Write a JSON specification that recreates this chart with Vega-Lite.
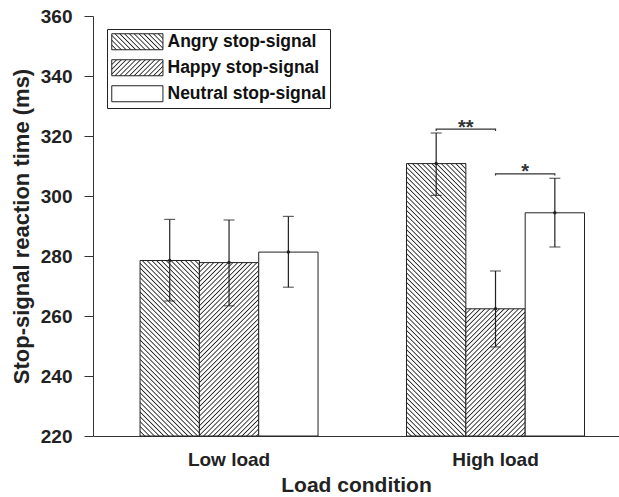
{
  "$schema": "https://vega.github.io/schema/vega-lite/v6.json",
  "width": 526,
  "height": 420,
  "autosize": {"type": "none"},
  "padding": {"left": 93, "top": 16, "right": 0, "bottom": 61},
  "background": "white",
  "config": {"view": {"stroke": null}, "font": "Liberation Sans"},
  "params": [
    {"name": "hs", "value": [
{"offset":0,"color":"#222"},{"offset":0.0025,"color":"#fff"},{"offset":0.0075,"color":"#fff"},
{"offset":0.01,"color":"#222"},{"offset":0.0125,"color":"#fff"},{"offset":0.0175,"color":"#fff"},
{"offset":0.02,"color":"#222"},{"offset":0.0225,"color":"#fff"},{"offset":0.0275,"color":"#fff"},
{"offset":0.03,"color":"#222"},{"offset":0.0325,"color":"#fff"},{"offset":0.0375,"color":"#fff"},
{"offset":0.04,"color":"#222"},{"offset":0.0425,"color":"#fff"},{"offset":0.0475,"color":"#fff"},
{"offset":0.05,"color":"#222"},{"offset":0.0525,"color":"#fff"},{"offset":0.0575,"color":"#fff"},
{"offset":0.06,"color":"#222"},{"offset":0.0625,"color":"#fff"},{"offset":0.0675,"color":"#fff"},
{"offset":0.07,"color":"#222"},{"offset":0.0725,"color":"#fff"},{"offset":0.0775,"color":"#fff"},
{"offset":0.08,"color":"#222"},{"offset":0.0825,"color":"#fff"},{"offset":0.0875,"color":"#fff"},
{"offset":0.09,"color":"#222"},{"offset":0.0925,"color":"#fff"},{"offset":0.0975,"color":"#fff"},
{"offset":0.10,"color":"#222"},{"offset":0.1025,"color":"#fff"},{"offset":0.1075,"color":"#fff"},
{"offset":0.11,"color":"#222"},{"offset":0.1125,"color":"#fff"},{"offset":0.1175,"color":"#fff"},
{"offset":0.12,"color":"#222"},{"offset":0.1225,"color":"#fff"},{"offset":0.1275,"color":"#fff"},
{"offset":0.13,"color":"#222"},{"offset":0.1325,"color":"#fff"},{"offset":0.1375,"color":"#fff"},
{"offset":0.14,"color":"#222"},{"offset":0.1425,"color":"#fff"},{"offset":0.1475,"color":"#fff"},
{"offset":0.15,"color":"#222"},{"offset":0.1525,"color":"#fff"},{"offset":0.1575,"color":"#fff"},
{"offset":0.16,"color":"#222"},{"offset":0.1625,"color":"#fff"},{"offset":0.1675,"color":"#fff"},
{"offset":0.17,"color":"#222"},{"offset":0.1725,"color":"#fff"},{"offset":0.1775,"color":"#fff"},
{"offset":0.18,"color":"#222"},{"offset":0.1825,"color":"#fff"},{"offset":0.1875,"color":"#fff"},
{"offset":0.19,"color":"#222"},{"offset":0.1925,"color":"#fff"},{"offset":0.1975,"color":"#fff"},
{"offset":0.20,"color":"#222"},{"offset":0.2025,"color":"#fff"},{"offset":0.2075,"color":"#fff"},
{"offset":0.21,"color":"#222"},{"offset":0.2125,"color":"#fff"},{"offset":0.2175,"color":"#fff"},
{"offset":0.22,"color":"#222"},{"offset":0.2225,"color":"#fff"},{"offset":0.2275,"color":"#fff"},
{"offset":0.23,"color":"#222"},{"offset":0.2325,"color":"#fff"},{"offset":0.2375,"color":"#fff"},
{"offset":0.24,"color":"#222"},{"offset":0.2425,"color":"#fff"},{"offset":0.2475,"color":"#fff"},
{"offset":0.25,"color":"#222"},{"offset":0.2525,"color":"#fff"},{"offset":0.2575,"color":"#fff"},
{"offset":0.26,"color":"#222"},{"offset":0.2625,"color":"#fff"},{"offset":0.2675,"color":"#fff"},
{"offset":0.27,"color":"#222"},{"offset":0.2725,"color":"#fff"},{"offset":0.2775,"color":"#fff"},
{"offset":0.28,"color":"#222"},{"offset":0.2825,"color":"#fff"},{"offset":0.2875,"color":"#fff"},
{"offset":0.29,"color":"#222"},{"offset":0.2925,"color":"#fff"},{"offset":0.2975,"color":"#fff"},
{"offset":0.30,"color":"#222"},{"offset":0.3025,"color":"#fff"},{"offset":0.3075,"color":"#fff"},
{"offset":0.31,"color":"#222"},{"offset":0.3125,"color":"#fff"},{"offset":0.3175,"color":"#fff"},
{"offset":0.32,"color":"#222"},{"offset":0.3225,"color":"#fff"},{"offset":0.3275,"color":"#fff"},
{"offset":0.33,"color":"#222"},{"offset":0.3325,"color":"#fff"},{"offset":0.3375,"color":"#fff"},
{"offset":0.34,"color":"#222"},{"offset":0.3425,"color":"#fff"},{"offset":0.3475,"color":"#fff"},
{"offset":0.35,"color":"#222"},{"offset":0.3525,"color":"#fff"},{"offset":0.3575,"color":"#fff"},
{"offset":0.36,"color":"#222"},{"offset":0.3625,"color":"#fff"},{"offset":0.3675,"color":"#fff"},
{"offset":0.37,"color":"#222"},{"offset":0.3725,"color":"#fff"},{"offset":0.3775,"color":"#fff"},
{"offset":0.38,"color":"#222"},{"offset":0.3825,"color":"#fff"},{"offset":0.3875,"color":"#fff"},
{"offset":0.39,"color":"#222"},{"offset":0.3925,"color":"#fff"},{"offset":0.3975,"color":"#fff"},
{"offset":0.40,"color":"#222"},{"offset":0.4025,"color":"#fff"},{"offset":0.4075,"color":"#fff"},
{"offset":0.41,"color":"#222"},{"offset":0.4125,"color":"#fff"},{"offset":0.4175,"color":"#fff"},
{"offset":0.42,"color":"#222"},{"offset":0.4225,"color":"#fff"},{"offset":0.4275,"color":"#fff"},
{"offset":0.43,"color":"#222"},{"offset":0.4325,"color":"#fff"},{"offset":0.4375,"color":"#fff"},
{"offset":0.44,"color":"#222"},{"offset":0.4425,"color":"#fff"},{"offset":0.4475,"color":"#fff"},
{"offset":0.45,"color":"#222"},{"offset":0.4525,"color":"#fff"},{"offset":0.4575,"color":"#fff"},
{"offset":0.46,"color":"#222"},{"offset":0.4625,"color":"#fff"},{"offset":0.4675,"color":"#fff"},
{"offset":0.47,"color":"#222"},{"offset":0.4725,"color":"#fff"},{"offset":0.4775,"color":"#fff"},
{"offset":0.48,"color":"#222"},{"offset":0.4825,"color":"#fff"},{"offset":0.4875,"color":"#fff"},
{"offset":0.49,"color":"#222"},{"offset":0.4925,"color":"#fff"},{"offset":0.4975,"color":"#fff"},
{"offset":0.50,"color":"#222"},{"offset":0.5025,"color":"#fff"},{"offset":0.5075,"color":"#fff"},
{"offset":0.51,"color":"#222"},{"offset":0.5125,"color":"#fff"},{"offset":0.5175,"color":"#fff"},
{"offset":0.52,"color":"#222"},{"offset":0.5225,"color":"#fff"},{"offset":0.5275,"color":"#fff"},
{"offset":0.53,"color":"#222"},{"offset":0.5325,"color":"#fff"},{"offset":0.5375,"color":"#fff"},
{"offset":0.54,"color":"#222"},{"offset":0.5425,"color":"#fff"},{"offset":0.5475,"color":"#fff"},
{"offset":0.55,"color":"#222"},{"offset":0.5525,"color":"#fff"},{"offset":0.5575,"color":"#fff"},
{"offset":0.56,"color":"#222"},{"offset":0.5625,"color":"#fff"},{"offset":0.5675,"color":"#fff"},
{"offset":0.57,"color":"#222"},{"offset":0.5725,"color":"#fff"},{"offset":0.5775,"color":"#fff"},
{"offset":0.58,"color":"#222"},{"offset":0.5825,"color":"#fff"},{"offset":0.5875,"color":"#fff"},
{"offset":0.59,"color":"#222"},{"offset":0.5925,"color":"#fff"},{"offset":0.5975,"color":"#fff"},
{"offset":0.60,"color":"#222"},{"offset":0.6025,"color":"#fff"},{"offset":0.6075,"color":"#fff"},
{"offset":0.61,"color":"#222"},{"offset":0.6125,"color":"#fff"},{"offset":0.6175,"color":"#fff"},
{"offset":0.62,"color":"#222"},{"offset":0.6225,"color":"#fff"},{"offset":0.6275,"color":"#fff"},
{"offset":0.63,"color":"#222"},{"offset":0.6325,"color":"#fff"},{"offset":0.6375,"color":"#fff"},
{"offset":0.64,"color":"#222"},{"offset":0.6425,"color":"#fff"},{"offset":0.6475,"color":"#fff"},
{"offset":0.65,"color":"#222"},{"offset":0.6525,"color":"#fff"},{"offset":0.6575,"color":"#fff"},
{"offset":0.66,"color":"#222"},{"offset":0.6625,"color":"#fff"},{"offset":0.6675,"color":"#fff"},
{"offset":0.67,"color":"#222"},{"offset":0.6725,"color":"#fff"},{"offset":0.6775,"color":"#fff"},
{"offset":0.68,"color":"#222"},{"offset":0.6825,"color":"#fff"},{"offset":0.6875,"color":"#fff"},
{"offset":0.69,"color":"#222"},{"offset":0.6925,"color":"#fff"},{"offset":0.6975,"color":"#fff"},
{"offset":0.70,"color":"#222"},{"offset":0.7025,"color":"#fff"},{"offset":0.7075,"color":"#fff"},
{"offset":0.71,"color":"#222"},{"offset":0.7125,"color":"#fff"},{"offset":0.7175,"color":"#fff"},
{"offset":0.72,"color":"#222"},{"offset":0.7225,"color":"#fff"}
    ]},
    {"name": "gLA", "expr": "{gradient:'linear',x1:0,y1:1,x2:0.8298,y2:-1.4545,stops:hs}"},
    {"name": "gLH", "expr": "{gradient:'linear',x1:0,y1:0,x2:0.8479,y2:2.478,stops:hs}"},
    {"name": "gHA", "expr": "{gradient:'linear',x1:0,y1:1,x2:0.3664,y2:-0.6823,stops:hs}"},
    {"name": "gHH", "expr": "{gradient:'linear',x1:0,y1:0,x2:1.4456,y2:3.0993,stops:hs}"},
    {"name": "gKA", "expr": "{gradient:'linear',x1:0,y1:1,x2:8.541,y2:-1.669,stops:hs}"},
    {"name": "gKH", "expr": "{gradient:'linear',x1:0,y1:0,x2:8.541,y2:2.669,stops:hs}"}
  ],
  "datasets": {
    "means": [
      {"load": "Low load", "cond": "Angry stop-signal", "rt": 278.5, "lo": 265.0, "hi": 292.2},
      {"load": "Low load", "cond": "Happy stop-signal", "rt": 277.8, "lo": 263.4, "hi": 292.0},
      {"load": "Low load", "cond": "Neutral stop-signal", "rt": 281.3, "lo": 269.6, "hi": 293.2},
      {"load": "High load", "cond": "Angry stop-signal", "rt": 310.8, "lo": 300.2, "hi": 321.0},
      {"load": "High load", "cond": "Happy stop-signal", "rt": 262.4, "lo": 249.7, "hi": 275.0},
      {"load": "High load", "cond": "Neutral stop-signal", "rt": 294.4, "lo": 283.0, "hi": 305.9}
    ],
    "brackets": [
      {"b": "p1", "seq": 1, "load": "High load", "cond": "Angry stop-signal", "y": 321.7},
      {"b": "p1", "seq": 2, "load": "High load", "cond": "Angry stop-signal", "y": 322.3},
      {"b": "p1", "seq": 3, "load": "High load", "cond": "Happy stop-signal", "y": 322.3},
      {"b": "p1", "seq": 4, "load": "High load", "cond": "Happy stop-signal", "y": 321.7},
      {"b": "p2", "seq": 1, "load": "High load", "cond": "Happy stop-signal", "y": 306.8},
      {"b": "p2", "seq": 2, "load": "High load", "cond": "Happy stop-signal", "y": 307.4},
      {"b": "p2", "seq": 3, "load": "High load", "cond": "Neutral stop-signal", "y": 307.4},
      {"b": "p2", "seq": 4, "load": "High load", "cond": "Neutral stop-signal", "y": 306.8}
    ],
    "stars": [
      {"load": "High load", "cond": "Happy stop-signal", "y": 322.3, "label": "**"},
      {"load": "High load", "cond": "Neutral stop-signal", "y": 307.4, "label": "*"}
    ]
  },
  "encoding": {
    "x": {
      "field": "load", "type": "nominal",
      "scale": {"domain": ["Low load", "High load"], "paddingInner": 0.332, "paddingOuter": 0.153, "align": 0.577},
      "axis": {
        "title": "Load condition", "labelAngle": 0, "ticks": false, "tickSize": 0,
        "labelFont": "Liberation Sans", "labelFontSize": 19, "labelFontWeight": "bold", "labelColor": "#222", "labelPadding": 14,
        "titleFont": "Liberation Sans", "titleFontSize": 21, "titleFontWeight": "bold", "titleColor": "#222", "titlePadding": 5,
        "domainColor": "#333", "domainWidth": 1
      }
    },
    "xOffset": {
      "field": "cond", "type": "nominal",
      "scale": {"domain": ["Angry stop-signal", "Happy stop-signal", "Neutral stop-signal"], "paddingInner": 0, "paddingOuter": 0}
    },
    "y": {
      "type": "quantitative",
      "scale": {"domain": [220, 360], "nice": false, "zero": false},
      "axis": {
        "title": "Stop-signal reaction time (ms)", "values": [220, 240, 260, 280, 300, 320, 340, 360], "grid": false,
        "tickSize": 9, "tickColor": "#333", "domainColor": "#333",
        "labelFont": "Liberation Sans", "labelFontSize": 19, "labelFontWeight": "bold", "labelColor": "#222", "labelPadding": 12,
        "titleFont": "Liberation Sans", "titleFontSize": 22, "titleFontWeight": "bold", "titleColor": "#222", "titlePadding": 7
      }
    }
  },
  "layer": [
    {
      "data": {"name": "means"},
      "mark": {
        "type": "bar", "strokeWidth": 1,
        "fill": {"expr": "(datum.cond || datum.value) === 'Neutral stop-signal' ? 'white' : (!datum.load ? (datum.value === 'Angry stop-signal' ? gKA : gKH) : (datum.load === 'Low load' ? (datum.cond === 'Angry stop-signal' ? gLA : gLH) : (datum.cond === 'Angry stop-signal' ? gHA : gHH)))"}
      },
      "encoding": {
        "y": {"field": "rt", "type": "quantitative"},
        "y2": {"datum": 220},
        "stroke": {
          "field": "cond", "type": "nominal",
          "scale": {"domain": ["Angry stop-signal", "Happy stop-signal", "Neutral stop-signal"], "range": ["#222", "#222", "#222"]},
          "legend": {
            "title": null, "orient": "none", "legendX": 14, "legendY": 13,
            "symbolType": "M-1,-1H5.4V1H-1Z", "symbolSize": 256, "symbolStrokeWidth": 1,
            "labelFont": "Liberation Sans", "labelFontSize": 17.5, "labelFontWeight": "bold", "labelColor": "#111",
            "labelOffset": 39, "rowPadding": 5, "padding": 4, "labelLimit": 400,
            "strokeColor": "#222", "fillColor": "white", "cornerRadius": 0,
            "encode": {"symbols": {"update": {
              "fill": {"signal": "datum.value === 'Angry stop-signal' ? gKA : (datum.value === 'Happy stop-signal' ? gKH : 'white')"},
              "fillOpacity": {"value": 1},
              "opacity": {"value": 1}
            }}}
          }
        }
      }
    },
    {
      "data": {"name": "means"},
      "mark": {"type": "rule", "color": "#222", "strokeWidth": 1.2},
      "encoding": {
        "y": {"field": "lo", "type": "quantitative"},
        "y2": {"field": "hi"}
      }
    },
    {
      "data": {"name": "means"},
      "mark": {"type": "tick", "color": "#222", "size": 11, "thickness": 1.2},
      "encoding": {"y": {"field": "lo", "type": "quantitative"}}
    },
    {
      "data": {"name": "means"},
      "mark": {"type": "tick", "color": "#222", "size": 11, "thickness": 1.2},
      "encoding": {"y": {"field": "hi", "type": "quantitative"}}
    },
    {
      "data": {"name": "means"},
      "mark": {"type": "point", "filled": true, "color": "#222", "size": 12, "opacity": 1},
      "encoding": {"y": {"field": "rt", "type": "quantitative"}}
    },
    {
      "data": {"name": "brackets"},
      "mark": {"type": "line", "color": "#333", "strokeWidth": 1.2},
      "encoding": {
        "y": {"field": "y", "type": "quantitative"},
        "detail": {"field": "b", "type": "nominal"},
        "order": {"field": "seq", "type": "quantitative"}
      }
    },
    {
      "data": {"name": "stars"},
      "mark": {"type": "text", "font": "Liberation Sans", "fontSize": 20, "fontWeight": "bold", "color": "#333", "dx": -29.7, "dy": 4.5, "baseline": "alphabetic", "align": "center"},
      "encoding": {
        "y": {"field": "y", "type": "quantitative"},
        "text": {"field": "label"}
      }
    }
  ]
}
